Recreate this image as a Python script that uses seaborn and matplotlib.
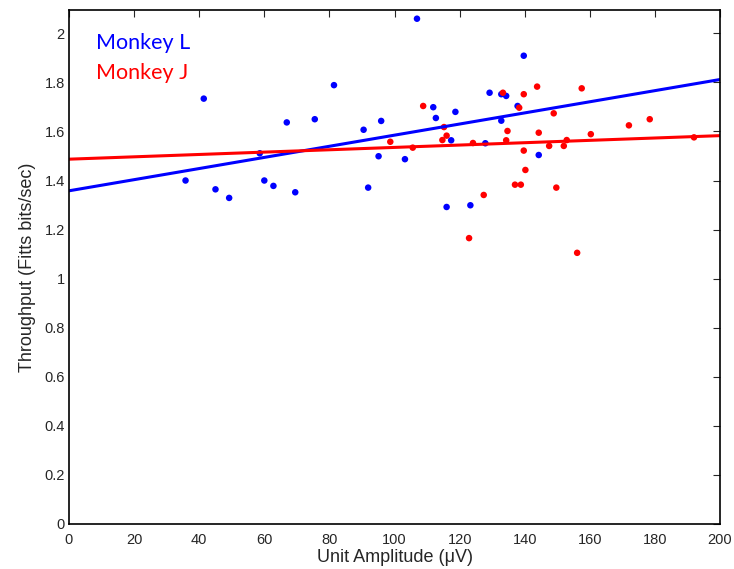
import matplotlib
matplotlib.use("Agg")
import matplotlib.pyplot as plt
import seaborn as sns
import pandas as pd
import numpy as np

# Monkey L (blue)
amp_L = [35.8, 41.4, 45.0, 49.2, 58.6, 60.0, 62.8, 66.9, 69.5, 75.5, 81.4, 90.5,
         91.9, 95.1, 95.9, 103.2, 106.9, 111.9, 112.7, 116.0, 117.4, 118.7, 123.3,
         127.9, 129.2, 132.8, 132.8, 134.3, 137.8, 139.7, 144.3]
tp_L = [1.400, 1.734, 1.364, 1.329, 1.511, 1.400, 1.378, 1.637, 1.352, 1.650, 1.789, 1.607,
        1.371, 1.499, 1.643, 1.487, 2.060, 1.699, 1.655, 1.292, 1.564, 1.680, 1.299,
        1.552, 1.758, 1.752, 1.644, 1.745, 1.704, 1.909, 1.504]

# Monkey J (red)
amp_J = [98.7, 105.6, 108.8, 114.7, 115.2, 116.0, 122.9, 124.1, 127.4, 133.3, 134.3,
         134.7, 137.0, 138.3, 138.8, 139.7, 139.7, 140.2, 143.8, 144.3, 147.5, 148.9,
         149.7, 152.0, 152.9, 156.1, 157.5, 160.3, 172.0, 178.4, 192.0]
tp_J = [1.558, 1.534, 1.704, 1.565, 1.618, 1.583, 1.165, 1.553, 1.341, 1.758, 1.564,
        1.602, 1.383, 1.697, 1.383, 1.752, 1.522, 1.443, 1.783, 1.595, 1.541, 1.674,
        1.371, 1.541, 1.565, 1.105, 1.776, 1.589, 1.625, 1.650, 1.576]

# linear fit endpoints
fit_x = [0, 200]
fit_L = [1.358, 1.812]
fit_J = [1.487, 1.583]

blue = '#0000ff'
red = '#ff0000'

sns.set_style('white')
plt.rcParams['font.family'] = ['Liberation Sans', 'DejaVu Sans']
plt.rcParams['xtick.direction'] = 'in'
plt.rcParams['ytick.direction'] = 'in'

fig = plt.figure(figsize=(7.34, 5.69), dpi=100)
ax = fig.add_axes([0.094, 0.0796, 0.887, 0.9026])

df_L = pd.DataFrame({'amp': amp_L, 'tp': tp_L})
df_J = pd.DataFrame({'amp': amp_J, 'tp': tp_J})

sns.scatterplot(data=df_L, x='amp', y='tp', color=blue, s=22, edgecolor='none', ax=ax)
sns.scatterplot(data=df_J, x='amp', y='tp', color=red, s=22, edgecolor='none', ax=ax)
sns.lineplot(x=fit_x, y=fit_L, color=blue, linewidth=2.2, ax=ax)
sns.lineplot(x=fit_x, y=fit_J, color=red, linewidth=2.2, ax=ax)

ax.set_xlim(0, 200)
ax.set_ylim(0, 2.095)
ax.set_xticks(np.arange(0, 201, 20))
ax.set_yticks(np.arange(0, 2.01, 0.2))
ax.set_yticklabels(['0', '0.2', '0.4', '0.6', '0.8', '1', '1.2', '1.4', '1.6', '1.8', '2'])
ax.tick_params(labelsize=10.5, length=5, width=0.8, top=True, right=True, pad=3)
ax.tick_params(axis='x', pad=7)
for sp in ax.spines.values():
    sp.set_linewidth(1.2)
    sp.set_color('black')

ax.set_xlabel('Unit Amplitude (\u03bcV)', fontsize=13, labelpad=1)
ax.set_ylabel('Throughput (Fitts bits/sec)', fontsize=13, labelpad=6)

ax.text(0.042, 0.925, 'Monkey L', color=blue, fontsize=15.5, family=['Lato', 'DejaVu Sans'],
        transform=ax.transAxes, va='baseline')
ax.text(0.042, 0.866, 'Monkey J', color=red, fontsize=15.5, family=['Lato', 'DejaVu Sans'],
        transform=ax.transAxes, va='baseline')

plt.savefig('out.png', dpi=100)
plt.close()
